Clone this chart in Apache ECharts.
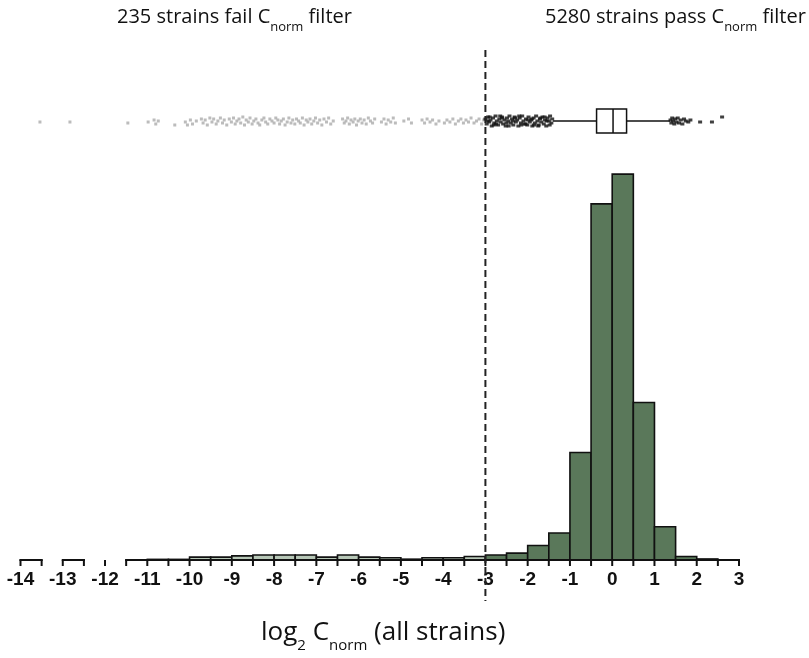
<!DOCTYPE html>
<html>
<head>
<meta charset="utf-8">
<script src="https://cdn.jsdelivr.net/npm/echarts@6/dist/echarts.min.js"></script>
<style>
html,body{margin:0;padding:0;background:#fff;}
#main{width:809px;height:658px;}
</style>
</head>
<body>
<div id="main"></div>
<script>
// histogram bins (left edges), 0.5 wide
var binWidth = 0.5;
var cutoff = -3;
var failBinStarts = [-14, -13, -11.5, -11, -10.5, -10, -9.5, -9, -8.5, -8, -7.5, -7, -6.5, -6, -5.5, -5, -4.5, -4, -3.5];
var failCounts    = [1, 1, 1, 3, 3, 14, 14, 20, 24, 24, 24, 14, 24, 14, 11, 4, 11, 11, 17];
var passBinStarts = [-3, -2.5, -2, -1.5, -1, -0.5, 0, 0.5, 1, 1.5, 2];
var passCounts    = [24, 33, 70, 130, 517, 1712, 1855, 757, 160, 17, 5];

// broken x axis: pieces that have data
var axisSegments = [[-14, -13.5], [-13, -12.5], [-12, -12], [-11.5, 3]];

// box plot of passing strains: min whisker, q1, median, q3, max whisker
var boxStats = [-1.40, -0.37, 0.02, 0.34, 1.37];

// dots: [log2 Cnorm, vertical jitter]
var failDots = [
  [-13.54,-1],[-12.83,-1],[-11.46,-2],
  [-10.98,-1],[-10.84,1],[-10.8,-3],[-10.74,0],
  [-10.35,-4],[-10.1,-1],[-10.05,-4],[-9.98,1],[-9.93,-3],[-9.84,0],
  [-9.72,2],[-9.68,-2],[-9.63,1],[-9.58,-4],[-9.52,3],[-9.47,-1],[-9.43,2],[-9.37,-3],[-9.33,0],[-9.27,3],[-9.22,-2],[-9.18,1],[-9.12,-4],[-9.06,2],[-9.01,-1],
  [-8.96,3],[-8.92,-3],[-8.88,0],[-8.83,2],[-8.79,-2],[-8.74,4],[-8.7,-4],[-8.66,1],[-8.61,-1],[-8.57,3],[-8.52,-3],[-8.48,0],[-8.43,2],[-8.38,-2],[-8.34,-4],[-8.29,1],[-8.24,3],[-8.2,-1],[-8.15,-3],[-8.1,2],[-8.05,0],
  [-8.0,-2],[-7.96,3],[-7.91,1],[-7.87,-3],[-7.83,0],[-7.78,2],[-7.74,-4],[-7.69,-1],[-7.65,3],[-7.6,-2],[-7.56,1],[-7.51,-3],[-7.47,2],[-7.42,0],[-7.38,-2],[-7.33,3],[-7.29,-4],[-7.24,1],[-7.2,-1],[-7.15,2],[-7.11,-3],[-7.06,0],[-7.02,3],
  [-6.97,-2],[-6.92,1],[-6.87,-4],[-6.82,2],[-6.76,-1],[-6.71,3],[-6.66,-3],[-6.6,0],
  [-6.38,2],[-6.34,-2],[-6.3,0],[-6.26,3],[-6.22,-3],[-6.18,1],[-6.13,-1],[-6.09,2],[-6.05,-4],[-6.01,0],
  [-5.96,2],[-5.92,-2],[-5.87,1],[-5.82,-3],[-5.77,3],[-5.72,0],[-5.67,-2],[-5.62,2],
  [-5.46,-1],[-5.4,2],[-5.35,-3],[-5.3,1],[-5.24,-1],[-5.18,3],[-5.13,-2],
  [-4.93,0],[-4.82,2],[-4.75,-2],
  [-4.5,1],[-4.44,-2],[-4.38,2],[-4.31,-1],[-4.25,1],[-4.17,-3],[-4.1,0],
  [-3.97,-2],[-3.91,1],[-3.84,-1],[-3.77,2],[-3.71,-3],[-3.64,0],[-3.58,2],[-3.52,-2],[-3.46,1],[-3.4,-1],[-3.34,3],[-3.27,-2],[-3.21,0],[-3.15,2],[-3.09,-3],[-3.04,1]
];
var lowOutliers = [
  [-3.0,2],[-2.97,-3],[-2.94,4],[-2.91,-1],[-2.88,1],[-2.85,-5],[-2.82,3],[-2.79,-2],[-2.76,5],[-2.73,0],[-2.7,-4],[-2.67,2],[-2.64,-1],[-2.61,4],[-2.58,-3],[-2.55,1],[-2.52,-5],[-2.49,3],[-2.46,0],[-2.43,5],[-2.4,-2],[-2.37,2],[-2.34,-4],[-2.31,4],[-2.28,-1],[-2.25,1],[-2.22,-5],[-2.19,3],[-2.16,-2],[-2.13,5],[-2.1,0],[-2.07,-3],[-2.04,2],[-2.01,-4],[-1.98,4],[-1.95,-1],[-1.92,1],[-1.89,-5],[-1.86,3],[-1.83,-2],[-1.8,5],[-1.77,0],[-1.74,-4],[-1.71,2],[-1.68,-1],[-1.65,4],[-1.62,-3],[-1.59,1],[-1.56,-5],[-1.53,3],[-1.5,0],[-1.47,5],[-1.44,-2],[-1.42,2],
  [-2.95,0],[-2.8,-4],[-2.65,5],[-2.5,-2],[-2.35,0],[-2.2,5],[-2.05,-3],[-1.9,2],[-1.75,-5],[-1.6,4],[-1.48,-4],[-1.55,0],[-1.7,3],[-1.85,-4],[-2.0,1],[-2.15,-4],[-2.3,3],[-2.45,-5],[-2.6,3],[-2.75,-3],[-2.9,4]
];
var highOutliers = [
  [1.38,1],[1.4,-2],[1.42,3],[1.44,0],[1.47,-3],[1.49,2],[1.52,-1],[1.55,3],[1.58,-2],[1.62,1],[1.66,-3],[1.7,2],[1.74,0],[1.8,-1],[1.85,1],[2.08,-1],[2.36,-1],[2.6,4]
];

var myChart = echarts.init(document.getElementById('main'));

function binRenderer(fill) {
  return function (params, api) {
    var a = api.coord([api.value(0), api.value(1)]);
    var b = api.coord([api.value(0) + binWidth, 0]);
    return {
      type: 'rect',
      shape: {x: a[0], y: a[1], width: b[0] - a[0], height: b[1] - a[1]},
      style: {fill: fill, stroke: '#111', lineWidth: 1.6}
    };
  };
}

// axis pieces with ticks every half unit
function axisRenderer(params, api) {
  var s = api.value(0), e = api.value(1);
  var p0 = api.coord([s, 0]), p1 = api.coord([e, 0]);
  var kids = [];
  if (e > s) {
    kids.push({type: 'line', shape: {x1: p0[0] - 1, y1: p0[1], x2: p1[0] + 1, y2: p1[1]}, style: {stroke: '#111', lineWidth: 2}});
  }
  for (var t = s; t <= e + 1e-9; t += 0.5) {
    var p = api.coord([t, 0]);
    kids.push({type: 'line', shape: {x1: p[0], y1: p[1], x2: p[0], y2: p[1] + 6}, style: {stroke: '#111', lineWidth: 2}});
  }
  return {type: 'group', children: kids};
}

function cutoffRenderer(params, api) {
  var x = api.coord([api.value(0), 0])[0];
  return {
    type: 'line',
    shape: {x1: x, y1: 50, x2: x, y2: 601},
    style: {stroke: '#222', lineWidth: 2, lineDash: [7, 4]}
  };
}

function boxRenderer(params, api) {
  var lo = api.coord([api.value(0), 0]);
  var q1 = api.coord([api.value(1), 0]);
  var md = api.coord([api.value(2), 0]);
  var q3 = api.coord([api.value(3), 0]);
  var hi = api.coord([api.value(4), 0]);
  var y = lo[1], h = 24;
  var st = {stroke: '#111', lineWidth: 1.5};
  return {
    type: 'group',
    children: [
      {type: 'line', shape: {x1: lo[0], y1: y, x2: q1[0], y2: y}, style: st},
      {type: 'line', shape: {x1: q3[0], y1: y, x2: hi[0], y2: y}, style: st},
      {type: 'rect', shape: {x: q1[0], y: y - h / 2, width: q3[0] - q1[0], height: h}, style: {fill: '#fff', stroke: '#111', lineWidth: 1.5}},
      {type: 'line', shape: {x1: md[0], y1: y - h / 2, x2: md[0], y2: y + h / 2}, style: st}
    ]
  };
}

var txt = {fontFamily: 'Open Sans', fontSize: 20, fontWeight: 'normal', color: '#111', lineHeight: 24,
  rich: {s: {fontFamily: 'Open Sans', fontSize: 13, color: '#111', lineHeight: 24, padding: [20, 0, 0, 0]}}};

var option = {
  backgroundColor: '#fff',
  animation: false,
  title: [
    {text: '235 strains fail C{s|norm} filter', left: 112, top: 0, textStyle: txt},
    {text: '5280 strains pass C{s|norm} filter', left: 540, top: 0, textStyle: txt},
    {
      text: 'log{s|2} C{s|norm} (all strains)', left: 256, top: 613,
      textStyle: {fontFamily: 'Open Sans', fontSize: 26, fontWeight: 'normal', color: '#111', lineHeight: 30,
        rich: {s: {fontFamily: 'Open Sans', fontSize: 15, color: '#111', lineHeight: 30, padding: [26, 0, 0, 0]}}}
    }
  ],
  grid: [
    {left: 20.5, right: 70, top: 144, bottom: 98},
    {left: 20.5, right: 70, top: 101, height: 40}
  ],
  xAxis: [
    {
      type: 'value', gridIndex: 0, min: -14, max: 3, interval: 1,
      axisLine: {show: false}, axisTick: {show: false}, splitLine: {show: false},
      axisLabel: {margin: 10, color: '#111', fontFamily: "'Liberation Sans Narrow', 'Liberation Sans', Arial", fontSize: 19, fontWeight: 'bold'}
    },
    {
      type: 'value', gridIndex: 1, min: -14, max: 3,
      axisLine: {show: false}, axisTick: {show: false}, splitLine: {show: false}, axisLabel: {show: false}
    }
  ],
  yAxis: [
    {type: 'value', gridIndex: 0, min: 0, max: 2000, show: false},
    {type: 'value', gridIndex: 1, min: -20, max: 20, show: false}
  ],
  series: [
    {
      type: 'custom', name: 'fail', xAxisIndex: 0, yAxisIndex: 0, z: 2, silent: true,
      renderItem: binRenderer('#b7c7b7'),
      data: failBinStarts.map(function (x, i) { return [x, failCounts[i]]; })
    },
    {
      type: 'custom', name: 'pass', xAxisIndex: 0, yAxisIndex: 0, z: 2, silent: true,
      renderItem: binRenderer('#5a785a'),
      data: passBinStarts.map(function (x, i) { return [x, passCounts[i]]; })
    },
    {
      type: 'custom', xAxisIndex: 0, yAxisIndex: 0, z: 3, silent: true, clip: false,
      renderItem: axisRenderer, data: axisSegments
    },
    {
      type: 'custom', xAxisIndex: 0, yAxisIndex: 0, z: 5, silent: true, clip: false,
      renderItem: cutoffRenderer, data: [[cutoff, 0]]
    },
    {
      type: 'custom', xAxisIndex: 1, yAxisIndex: 1, z: 3, silent: true, clip: false,
      renderItem: boxRenderer, data: [boxStats]
    },
    {
      type: 'scatter', xAxisIndex: 1, yAxisIndex: 1, z: 4, silent: true,
      symbol: 'rect', symbolSize: [3, 3], itemStyle: {color: '#ababab'}, data: failDots
    },
    {
      type: 'scatter', xAxisIndex: 1, yAxisIndex: 1, z: 4, silent: true,
      symbol: 'rect', symbolSize: [4, 3], itemStyle: {color: '#111'}, data: lowOutliers.concat(highOutliers)
    }
  ]
};

myChart.setOption(option);
</script>
</body>
</html>
